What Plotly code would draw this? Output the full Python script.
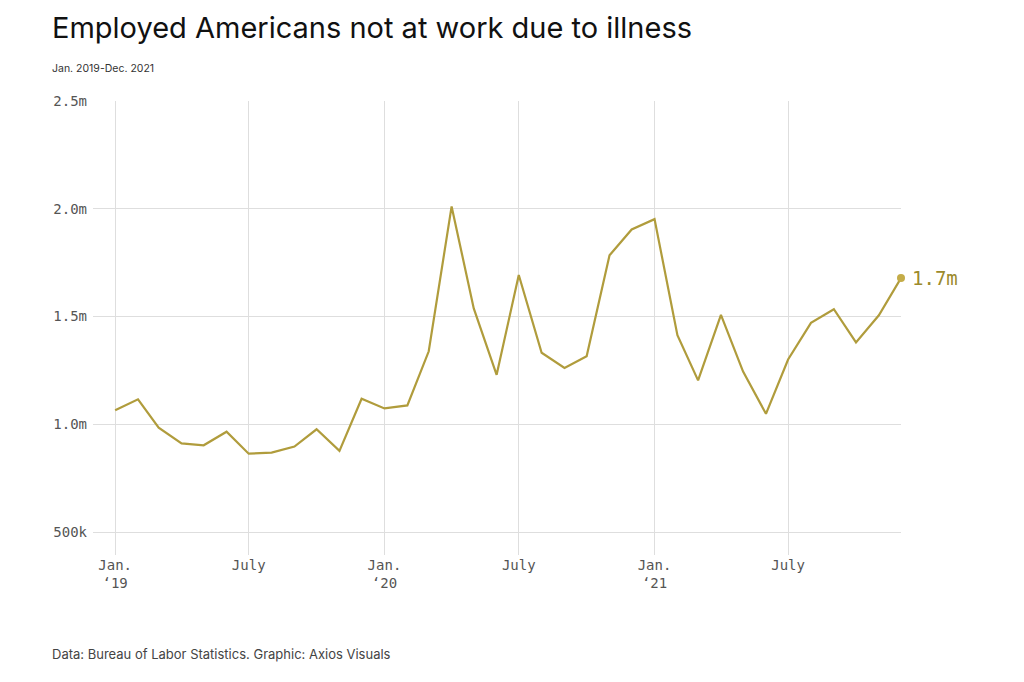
import plotly.graph_objects as go

months = [
    "2019-01-01", "2019-02-01", "2019-03-01", "2019-04-01", "2019-05-01", "2019-06-01",
    "2019-07-01", "2019-08-01", "2019-09-01", "2019-10-01", "2019-11-01", "2019-12-01",
    "2020-01-01", "2020-02-01", "2020-03-01", "2020-04-01", "2020-05-01", "2020-06-01",
    "2020-07-01", "2020-08-01", "2020-09-01", "2020-10-01", "2020-11-01", "2020-12-01",
    "2021-01-01", "2021-02-01", "2021-03-01", "2021-04-01", "2021-05-01", "2021-06-01",
    "2021-07-01", "2021-08-01", "2021-09-01", "2021-10-01", "2021-11-01", "2021-12-01",
]
not_at_work = [
    1065000, 1116000, 985000, 912000, 903000, 966000,
    864000, 869000, 897000, 977000, 877000, 1119000,
    1074000, 1088000, 1339000, 2011000, 1538000, 1230000,
    1693000, 1332000, 1262000, 1316000, 1784000, 1904000,
    1952000, 1414000, 1204000, 1508000, 1245000, 1049000,
    1301000, 1471000, 1534000, 1380000, 1506000, 1679000,
]
x_tickvals = ["2019-01-01", "2019-07-01", "2020-01-01", "2020-07-01", "2021-01-01", "2021-07-01"]
x_ticktext = ["Jan.<br>\u201819", "July", "Jan.<br>\u201820", "July", "Jan.<br>\u201821", "July"]
y_tickvals = [500000, 1000000, 1500000, 2000000, 2500000]
y_ticktext = ["500k", "1.0m", "1.5m", "2.0m", "2.5m"]
end_label = "1.7m"

LINE = "#b09c3c"
MONO = "DejaVu Sans Mono"
SANS = "Inter"

# page offset (browser body margin)
OFF = 8
ML, MR, MT, MB = 93 - OFF, 123 + OFF, 101 - OFF, 127 + OFF
W, H = 1024, 682

fig = go.Figure()
fig.add_trace(go.Scatter(
    x=months, y=not_at_work, mode="lines",
    line=dict(color=LINE, width=2.2), hoverinfo="skip", showlegend=False,
))
fig.add_trace(go.Scatter(
    x=[months[-1]], y=[not_at_work[-1]], mode="markers",
    marker=dict(color="#c4ac48", size=8),
    hoverinfo="skip", showlegend=False, cliponaxis=False,
))

fig.update_layout(
    width=W, height=H,
    margin=dict(l=ML, r=MR, t=MT, b=MB),
    paper_bgcolor="white", plot_bgcolor="white",
    xaxis=dict(
        type="date", range=["2018-12-02", "2021-12-01"],
        tickvals=x_tickvals, ticktext=x_ticktext,
        showgrid=True, gridcolor="#dedede", gridwidth=1,
        zeroline=False, showline=False, ticks="",
        ticklabelstandoff=0,
        tickfont=dict(family=MONO, size=14, color="#555555"),
    ),
    yaxis=dict(
        range=[394000, 2500000],
        tickvals=y_tickvals, ticktext=y_ticktext,
        showgrid=True, gridcolor="#dedede", gridwidth=1,
        zeroline=False, showline=False, ticks="",
        ticklabelstandoff=5,
        tickfont=dict(family=MONO, size=14, color="#555555"),
    ),
)

fig.add_annotation(x=months[-1], y=not_at_work[-1], text=end_label, xanchor="left", yanchor="middle",
                   xshift=9, showarrow=False,
                   font=dict(family=MONO, size=19, color="#9c8a2c"))

plot_h = H - MT - MB
plot_w = W - ML - MR
def px_x(px):
    return (px - OFF - ML) / plot_w
def px_y(py):
    return (H - MB - (py - OFF)) / plot_h

fig.add_annotation(text="Employed Americans not at work due to illness", xref="paper", yref="paper",
                   x=px_x(50), y=px_y(27), xanchor="left", yanchor="middle", showarrow=False,
                   font=dict(family=SANS, size=29, color="#111111"))
fig.add_annotation(text="Jan. 2019-Dec. 2021", xref="paper", yref="paper",
                   x=px_x(50), y=px_y(69), xanchor="left", yanchor="middle", showarrow=False,
                   font=dict(family=SANS, size=10.5, color="#333333"))
fig.add_annotation(text="Data: Bureau of Labor Statistics. Graphic: Axios Visuals", xref="paper", yref="paper",
                   x=px_x(50), y=px_y(654), xanchor="left", yanchor="middle", showarrow=False,
                   font=dict(family=SANS, size=13, color="#444444"))

fig.write_html("out.html")
